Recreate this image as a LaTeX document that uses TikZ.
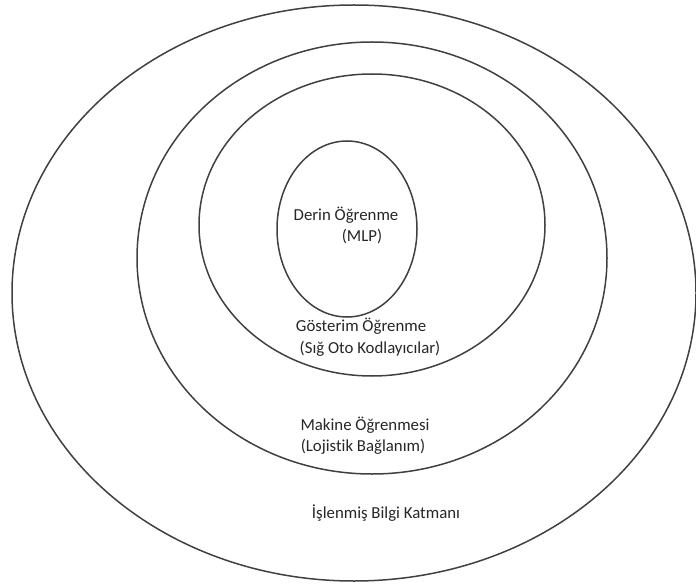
\documentclass[tikz,border=0pt]{standalone}
\usepackage{fontspec}
\setmainfont{Carlito}[Ligatures=NoCommon]
\begin{document}
\begin{tikzpicture}[x=1pt,y=-1pt,
  ring/.style={draw=black!75, line width=1.5pt},
  lbl/.style={font=\fontsize{16.8}{20}\selectfont, text=black!85, inner sep=0pt}]
\useasboundingbox (0,0) rectangle (696,588);
% nested layers, outermost first
\draw[ring] (354,293) ellipse [x radius=342, y radius=288];
\draw[ring] (372,258) ellipse [x radius=235, y radius=216];
\draw[ring] (372,225) ellipse [x radius=173, y radius=151];
\draw[ring] (347,229) ellipse [x radius=70, y radius=88];
% layer names
\node[lbl] (dl1) at (346,215) {Derin Öğrenme};
\node[lbl] (dl2) at (362,237) {(MLP)};
\node[lbl] (rl1) at (361,326) {Gösterim Öğrenme};
\node[lbl] (rl2) at (370,349) {(Sığ Oto Kodlayıcılar)};
\node[lbl] (ml1) at (365,425) {Makine Öğrenmesi};
\node[lbl] (ml2) at (363,447) {(Lojistik Bağlanım)};
\node[lbl] (kb)  at (386,513) {İşlenmiş Bilgi Katmanı};
\end{tikzpicture}
\end{document}
